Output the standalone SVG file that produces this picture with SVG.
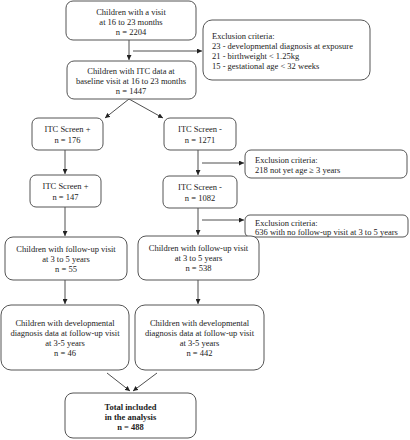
<svg xmlns="http://www.w3.org/2000/svg" width="410" height="440" viewBox="0 0 410 440">
<style>
.box{fill:#fff;stroke:#555;stroke-width:1}
.t{font-family:"Liberation Serif","Times New Roman",serif;font-size:8.5px;fill:#222}
.c{text-anchor:middle}
.b{font-weight:bold}
.ln{stroke:#222;stroke-width:0.8;fill:none;marker-end:url(#ah)}
</style>
<defs>
<marker id="ah" viewBox="0 0 6 6" refX="6" refY="3" markerWidth="5" markerHeight="5" orient="auto" markerUnits="userSpaceOnUse">
<path d="M0,0 L6,3 L0,6 z" fill="#222"/>
</marker>
</defs>
<rect width="410" height="440" fill="#fff"/>
<g id="connectors">
<line class="ln" x1="129" y1="40" x2="129" y2="60"/>
<line class="ln" x1="133" y1="51" x2="202" y2="51"/>
<line class="ln" x1="129" y1="99" x2="105" y2="118"/>
<line class="ln" x1="129" y1="99" x2="163" y2="118"/>
<line class="ln" x1="65" y1="150" x2="65" y2="174"/>
<line class="ln" x1="198" y1="150" x2="198" y2="175"/>
<line class="ln" x1="202" y1="163" x2="244" y2="163"/>
<line class="ln" x1="65" y1="207" x2="65" y2="236"/>
<line class="ln" x1="198" y1="208" x2="198" y2="235"/>
<line class="ln" x1="202" y1="220" x2="244" y2="220"/>
<line class="ln" x1="65" y1="280" x2="65" y2="304"/>
<line class="ln" x1="198" y1="280" x2="198" y2="304"/>
<line class="ln" x1="107" y1="373" x2="130" y2="391"/>
<line class="ln" x1="157" y1="373" x2="133" y2="391"/>
</g>
<g id="n1">
<rect class="box" x="66" y="1" width="130" height="39" rx="7"/>
<text class="t c" x="131" y="15">Children with a visit</text>
<text class="t c" x="131" y="25">at 16 to 23 months</text>
<text class="t c" x="131" y="35">n = 2204</text>
</g>
<g id="ex1">
<rect class="box" x="203" y="20" width="167" height="60" rx="9"/>
<text class="t" x="212" y="39">Exclusion criteria:</text>
<text class="t" x="212" y="49">23 - developmental diagnosis at exposure</text>
<text class="t" x="212" y="59">21 - birthweight &lt; 1.25kg</text>
<text class="t" x="212" y="69">15 - gestational age &lt; 32 weeks</text>
</g>
<g id="n2">
<rect class="box" x="67" y="61" width="129" height="38" rx="7"/>
<text class="t c" x="131" y="74">Children with ITC data at</text>
<text class="t c" x="131" y="84">baseline visit at 16 to 23 months</text>
<text class="t c" x="131" y="94">n = 1447</text>
</g>
<g id="n3">
<rect class="box" x="32" y="118" width="71" height="32" rx="6"/>
<text class="t c" x="67.5" y="132">ITC Screen +</text>
<text class="t c" x="67.5" y="143">n = 176</text>
</g>
<g id="n4">
<rect class="box" x="164" y="118" width="72" height="32" rx="6"/>
<text class="t c" x="200" y="132">ITC Screen -</text>
<text class="t c" x="200" y="143">n = 1271</text>
</g>
<g id="ex2">
<rect class="box" x="245" y="150" width="162" height="28" rx="6"/>
<text class="t" x="255" y="163">Exclusion criteria:</text>
<text class="t" x="255" y="173">218 not yet age ≥ 3 years</text>
</g>
<g id="n5">
<rect class="box" x="30" y="175" width="71" height="32" rx="6"/>
<text class="t c" x="65.5" y="189">ITC Screen +</text>
<text class="t c" x="65.5" y="200">n = 147</text>
</g>
<g id="n6">
<rect class="box" x="163" y="176" width="74" height="32" rx="6"/>
<text class="t c" x="200" y="190">ITC Screen -</text>
<text class="t c" x="200" y="201">n = 1082</text>
</g>
<g id="ex3">
<rect class="box" x="245" y="215" width="163" height="22" rx="5"/>
<text class="t" x="255" y="225.5">Exclusion criteria:</text>
<text class="t" x="255" y="234.5">636 with no follow-up visit at 3 to 5 years</text>
</g>
<g id="n7">
<rect class="box" x="5" y="237" width="122" height="43" rx="8"/>
<text class="t c" x="66" y="252">Children with follow-up visit</text>
<text class="t c" x="66" y="262">at 3 to 5 years</text>
<text class="t c" x="66" y="272">n = 55</text>
</g>
<g id="n8">
<rect class="box" x="138" y="236" width="121" height="44" rx="8"/>
<text class="t c" x="198.5" y="251">Children with follow-up visit</text>
<text class="t c" x="198.5" y="261">at 3 to 5 years</text>
<text class="t c" x="198.5" y="271">n = 538</text>
</g>
<g id="n9">
<rect class="box" x="1" y="305" width="128" height="65" rx="10"/>
<text class="t c" x="65" y="326">Children with developmental</text>
<text class="t c" x="65" y="336">diagnosis data at follow-up visit</text>
<text class="t c" x="65" y="346">at 3-5 years</text>
<text class="t c" x="65" y="356">n = 46</text>
</g>
<g id="n10">
<rect class="box" x="135" y="305" width="129" height="65" rx="10"/>
<text class="t c" x="199.5" y="326">Children with developmental</text>
<text class="t c" x="199.5" y="336">diagnosis data at follow-up visit</text>
<text class="t c" x="199.5" y="346">at 3-5 years</text>
<text class="t c" x="199.5" y="356">n = 442</text>
</g>
<g id="n11">
<rect class="box" x="65" y="393" width="131" height="45" rx="8"/>
<text class="t c b" x="130.5" y="410">Total included</text>
<text class="t c b" x="130.5" y="420">in the analysis</text>
<text class="t c b" x="130.5" y="430">n = 488</text>
</g>
</svg>
